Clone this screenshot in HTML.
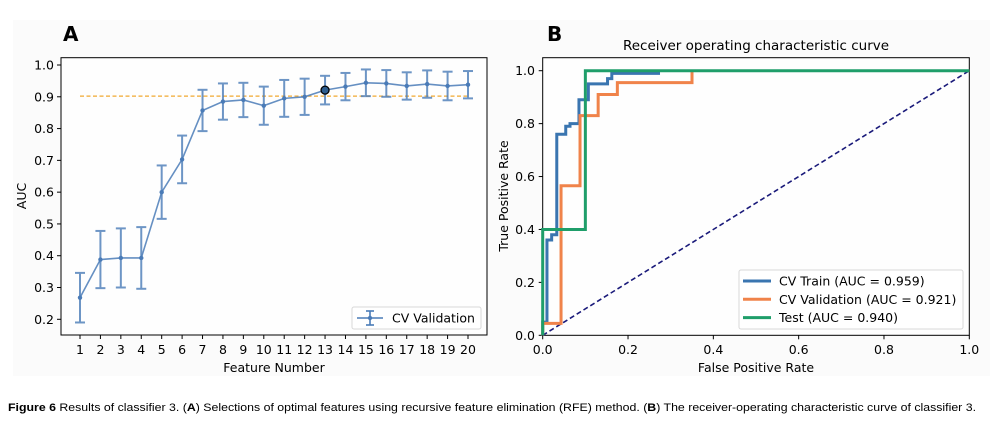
<!DOCTYPE html>
<html><head><meta charset="utf-8"><style>
body{margin:0;background:#fff;}
svg{display:block;font-family:"DejaVu Sans","Liberation Sans",sans-serif;}
</style></head><body>
<svg id="fig" width="1001" height="431" viewBox="0 0 1001 431">
<rect x="13" y="20" width="977" height="356" fill="#fbfbfb"/>
<text x="63" y="41" font-size="20" font-weight="bold">A</text>
<text x="547" y="41" font-size="20" font-weight="bold">B</text>
<text x="756" y="50" font-size="13.5" text-anchor="middle">Receiver operating characteristic curve</text>
<g id="ga"></g><g id="gb"></g>
<text x="8" y="411" font-size="11" font-family="Liberation Sans, sans-serif" textLength="968" lengthAdjust="spacingAndGlyphs"><tspan font-weight="bold">Figure 6</tspan> Results of classifier 3. (<tspan font-weight="bold">A</tspan>) Selections of optimal features using recursive feature elimination (RFE) method. (<tspan font-weight="bold">B</tspan>) The receiver-operating characteristic curve of classifier 3.</text>
</svg>
<script>
const features=[1,2,3,4,5,6,7,8,9,10,11,12,13,14,15,16,17,18,19,20];
const aucMean=[0.268,0.388,0.393,0.393,0.600,0.703,0.857,0.885,0.890,0.872,0.895,0.900,0.921,0.932,0.944,0.942,0.934,0.940,0.934,0.938];
const aucErr=[0.078,0.090,0.093,0.097,0.084,0.075,0.065,0.057,0.054,0.060,0.058,0.057,0.045,0.043,0.042,0.042,0.043,0.043,0.045,0.043];
const aYTicks=[0.2,0.3,0.4,0.5,0.6,0.7,0.8,0.9,1.0];
const threshold=0.902;
const bestIndex=12;
const trainFpr=[0,0,0.01,0.01,0.021,0.021,0.033,0.033,0.054,0.054,0.064,0.064,0.085,0.085,0.107,0.107,0.152,0.152,0.162,0.162,0.275];
const trainTpr=[0,0.05,0.05,0.36,0.36,0.38,0.38,0.76,0.76,0.79,0.79,0.80,0.80,0.89,0.89,0.95,0.95,0.97,0.97,0.99,0.99];
const valFpr=[0,0,0.043,0.043,0.0875,0.0875,0.13,0.13,0.175,0.175,0.35,0.35];
const valTpr=[0,0.045,0.045,0.565,0.565,0.83,0.83,0.91,0.91,0.955,0.955,1.0];
const testFpr=[0,0,0.1,0.1,1.0];
const testTpr=[0,0.4,0.4,1.0,1.0];
const bTicks=[0,0.2,0.4,0.6,0.8,1.0];
const legendB=["CV Train (AUC = 0.959)","CV Validation (AUC = 0.921)","Test (AUC = 0.940)"];

const NS="http://www.w3.org/2000/svg";
function mk(p,t,a){const e=document.createElementNS(NS,t);for(const k in a)e.setAttribute(k,a[k]);p.appendChild(e);return e;}
// Panel A
const ga=document.getElementById('ga');
const ax=f=>80+(f-1)*(468-80)/19, ay=v=>319.3-(v-0.2)*(319.3-65)/0.8;
let r=mk(ga,'rect',{x:61,y:57.7,width:426,height:277.3,fill:'#fefefe',stroke:'#000','stroke-width':1});


aYTicks.forEach(v=>{const y=ay(v);
 let l=mk(ga,'line',{x1:57,x2:61,y1:y,y2:y,stroke:'#000'});
 
 
 let t=mk(ga,'text',{x:54,y:y+4.5,'font-size':12.5,'text-anchor':'end'});t.textContent=v.toFixed(1);
 
 });
features.forEach(f=>{const x=ax(f);
 let l=mk(ga,'line',{x1:x,x2:x,y1:335,y2:339,stroke:'#000'});
 
 
 let t=mk(ga,'text',{x:x,y:354,'font-size':12.5,'text-anchor':'middle'});t.textContent=f;
 
 });
let xt=mk(ga,'text',{x:274,y:372,'font-size':12.5,'text-anchor':'middle'});xt.textContent='Feature Number';


let yt=mk(ga,'text',{x:0,y:0,'font-size':12.5,'text-anchor':'middle',transform:'translate(26,196) rotate(-90)'});yt.textContent='AUC';


let th=mk(ga,'line',{x1:ax(1),x2:ax(20),y1:ay(threshold),y2:ay(threshold),stroke:'#f0a830','stroke-width':1.2,'stroke-dasharray':'4,2.5'});


const col='#4a7bb7';
features.forEach((f,i)=>{const x=ax(f),y1=ay(aucMean[i]-aucErr[i]),y2=ay(aucMean[i]+aucErr[i]);
 const g=mk(ga,'g',{stroke:col,'stroke-width':2,opacity:0.8});
 
 
 mk(g,'line',{x1:x,x2:x,y1:y1,y2:y2});mk(g,'line',{x1:x-5,x2:x+5,y1:y1,y2:y1});mk(g,'line',{x1:x-5,x2:x+5,y1:y2,y2:y2});});
let pl=mk(ga,'polyline',{points:features.map((f,i)=>ax(f)+','+ay(aucMean[i])).join(' '),fill:'none',stroke:col,'stroke-width':1.6,opacity:0.85});


features.forEach((f,i)=>{let c=mk(ga,'circle',{cx:ax(f),cy:ay(aucMean[i]),r:2.2,fill:col});
 
 });
let best=mk(ga,'circle',{cx:ax(features[bestIndex]),cy:ay(aucMean[bestIndex]),r:4,fill:'#2d5d8f',stroke:'#000','stroke-width':1.3});


const lg=mk(ga,'g',{});


mk(lg,'rect',{x:352,y:307,width:129,height:22,rx:2,fill:'#fff',stroke:'#d8d8d8'});
mk(lg,'line',{x1:357,x2:383,y1:318,y2:318,stroke:col,'stroke-width':1.6});
mk(lg,'line',{x1:370,x2:370,y1:311,y2:325,stroke:col,'stroke-width':1.6});
mk(lg,'line',{x1:366,x2:374,y1:311,y2:311,stroke:col,'stroke-width':1.6});
mk(lg,'line',{x1:366,x2:374,y1:325,y2:325,stroke:col,'stroke-width':1.6});
mk(lg,'circle',{cx:370,cy:318,r:2.2,fill:col});
let lt=mk(lg,'text',{x:392,y:322.5,'font-size':12.5});lt.textContent='CV Validation';
// Panel B
const gb=document.getElementById('gb');
const bx=v=>542.7+v*(969.3-542.7), by=v=>335.3-v*(335.3-70.7);
r=mk(gb,'rect',{x:542.7,y:57.7,width:426.6,height:277.6,fill:'#fefefe',stroke:'#000','stroke-width':1});


bTicks.forEach(v=>{let y=by(v),x=bx(v);
 let l=mk(gb,'line',{x1:538.7,x2:542.7,y1:y,y2:y,stroke:'#000'});
 
 
 let t=mk(gb,'text',{x:535,y:y+4.5,'font-size':12.5,'text-anchor':'end'});t.textContent=v.toFixed(1);
 
 
 l=mk(gb,'line',{x1:x,x2:x,y1:335.3,y2:339.3,stroke:'#000'});
 
 
 t=mk(gb,'text',{x:x,y:354,'font-size':12.5,'text-anchor':'middle'});t.textContent=v.toFixed(1);
 
 });
xt=mk(gb,'text',{x:756,y:372,'font-size':12.5,'text-anchor':'middle'});xt.textContent='False Positive Rate';


yt=mk(gb,'text',{x:0,y:0,'font-size':12.5,'text-anchor':'middle',transform:'translate(508,196) rotate(-90)'});yt.textContent='True Positive Rate';


let dg=mk(gb,'line',{x1:bx(0),y1:by(0),x2:bx(1),y2:by(1),stroke:'#1a1a7a','stroke-width':1.6,'stroke-dasharray':'5,3'});


const series=[[trainFpr,trainTpr,'#3a75b0','cv-train-curve'],[valFpr,valTpr,'#f0834a','cv-validation-curve'],[testFpr,testTpr,'#1f9e6a','test-curve']];
series.forEach(s=>{let p=mk(gb,'polyline',{points:s[0].map((f,i)=>bx(f)+','+by(s[1][i])).join(' '),fill:'none',stroke:s[2],'stroke-width':3});
 
 });
const lb=mk(gb,'g',{});


mk(lb,'rect',{x:739,y:270,width:224,height:59,rx:2,fill:'#fff',stroke:'#d8d8d8'});
legendB.forEach((t,i)=>{const y=281+i*18.3;
 mk(lb,'line',{x1:743,x2:771,y1:y,y2:y,stroke:series[i][2],'stroke-width':3});
 let e=mk(lb,'text',{x:779,y:y+4.5,'font-size':12.5});e.textContent=t;
 
 });
</script>
</body></html>
